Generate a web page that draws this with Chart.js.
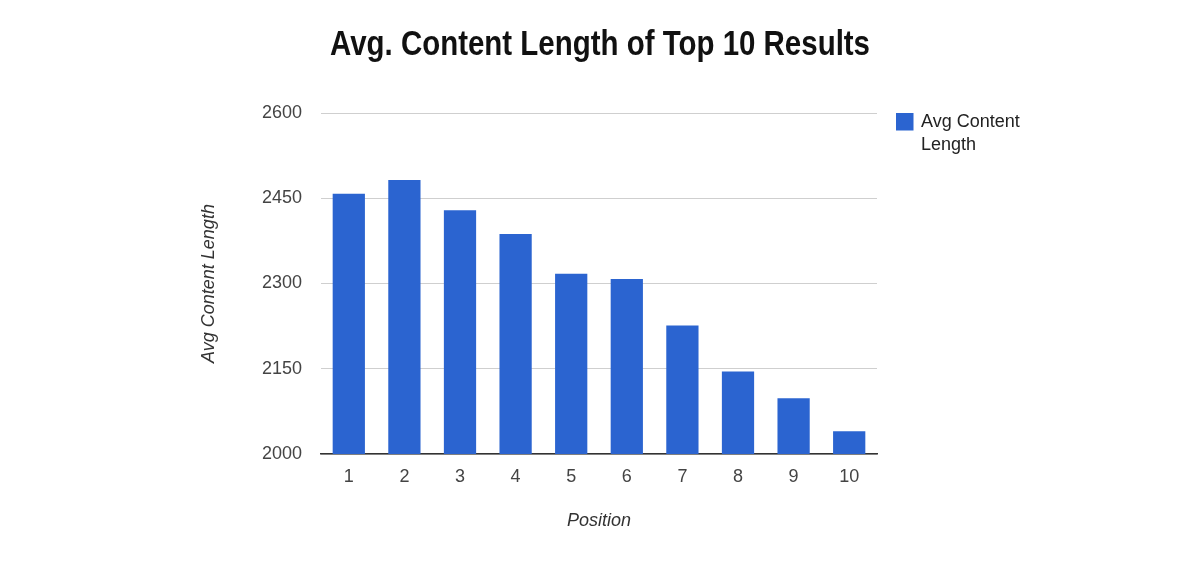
<!DOCTYPE html>
<html>
<head>
<meta charset="utf-8">
<title>Avg. Content Length of Top 10 Results</title>
<script src="https://cdn.jsdelivr.net/npm/chart.js@4/dist/chart.umd.min.js"></script>
<style>
  html, body { margin: 0; padding: 0; background: #fff; }
  #wrap { width: 1200px; height: 568px; }
</style>
</head>
<body>
<div id="wrap"><canvas id="lengthChart" width="1200" height="568"></canvas></div>
<script>
// data
const chartTitle = 'Avg. Content Length of Top 10 Results';
const seriesName = 'Avg Content Length';
const positions = ['1', '2', '3', '4', '5', '6', '7', '8', '9', '10'];
const avgLength = [2458, 2482, 2429, 2387, 2317, 2308, 2226, 2145, 2098, 2040];
const yTicks = [2000, 2150, 2300, 2450, 2600];

(function(){
    const ctx = document.getElementById('lengthChart').getContext('2d');
    const barBlue = '#2b64d0';
    const textFont = '"Liberation Sans", Arial, sans-serif';

    // condensed bold heading: bold sans squeezed to the width it has in the picture
    const headingPlugin = {
        id: 'heading',
        afterDraw(chart){
            const c = chart.ctx;
            c.save();
            c.font = 'bold 35px "Liberation Sans", Arial, sans-serif';
            c.fillStyle = '#111';
            c.textBaseline = 'alphabetic';
            c.textAlign = 'center';
            const w = c.measureText(chartTitle).width;
            const sx = Math.min(1, 540 / w);
            c.translate(600, 55);
            c.scale(sx, 1);
            c.fillText(chartTitle, 0, 0);
            c.restore();
        }
    };

    // legend box at the right, label wrapped over two lines
    const sideLegend = {
        id: 'sideLegend',
        afterDraw(chart){
            const c = chart.ctx;
            const ds = chart.data.datasets[0];
            const words = ds.label.split(' ');
            const lines = [words.slice(0, 2).join(' '), words.slice(2).join(' ')];
            c.save();
            c.fillStyle = ds.backgroundColor;
            c.fillRect(896, 113, 17.5, 17.5);
            c.font = '18px ' + textFont;
            c.fillStyle = '#222';
            c.textBaseline = 'middle';
            c.textAlign = 'left';
            lines.forEach((t, i) => c.fillText(t, 921, 122 + i * 23.5));
            c.restore();
        }
    };

    const chart = new Chart(ctx, {
        type: 'bar',
        data: {
            labels: positions,
            datasets: [{
                label: seriesName,
                data: avgLength,
                backgroundColor: barBlue,
                categoryPercentage: 0.58,
                barPercentage: 1.0
            }]
        },
        options: {
            responsive: false,
            animation: false,
            layout: { padding: { top: 113, right: 323, bottom: 0, left: 0 } },
            plugins: {
                legend: { display: false },
                title: { display: false },
                tooltip: { enabled: false }
            },
            scales: {
                x: {
                    grid: { display: false, drawTicks: false },
                    border: { display: true, color: '#333', width: 1.5 },
                    ticks: { color: '#444', padding: 12, font: { family: textFont, size: 18 } },
                    title: {
                        display: true, text: 'Position', color: '#333',
                        font: { family: textFont, size: 18, style: 'italic' },
                        padding: { top: 0, bottom: 36 }
                    },
                    afterFit(scale){ scale.height = 114; }
                },
                y: {
                    min: yTicks[0],
                    max: yTicks[yTicks.length - 1],
                    afterBuildTicks(scale){ scale.ticks = yTicks.map(v => ({ value: v })); },
                    grid: { color: '#cfcfcf', lineWidth: 1, drawTicks: false },
                    border: { display: false },
                    ticks: {
                        color: '#444', padding: 19, font: { family: textFont, size: 18 },
                        callback: v => String(v)
                    },
                    title: {
                        display: true, text: seriesName, color: '#333',
                        font: { family: textFont, size: 18, style: 'italic' },
                        padding: { top: 198, bottom: 0 }
                    },
                    afterFit(scale){ scale.width = 321; }
                }
            }
        },
        plugins: [headingPlugin, sideLegend]
    });
})();
</script>
</body>
</html>
